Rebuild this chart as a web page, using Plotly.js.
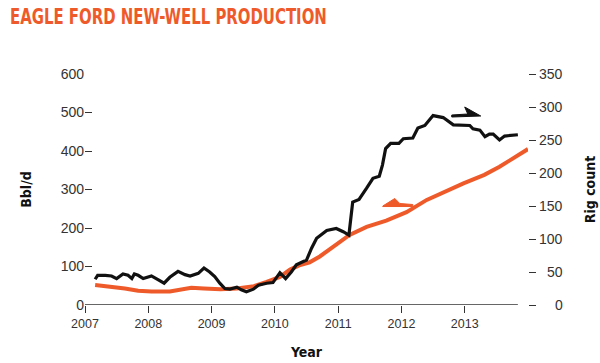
<!DOCTYPE html>
<html>
<head>
<meta charset="utf-8">
<script src="https://cdn.plot.ly/plotly-3.0.1.min.js"></script>
<style>html,body{margin:0;padding:0;background:#fff;}#chart{width:600px;height:363px;}</style>
</head>
<body>
<div id="chart"></div>
<script>
// Oil production per new well (Bbl/d, left axis)
const prodYears = [2007.16, 2007.42, 2007.63, 2007.84, 2008.05, 2008.34, 2008.53, 2008.68, 2008.88, 2009.14, 2009.40, 2009.67, 2009.87, 2010.08, 2010.24, 2010.40, 2010.55, 2010.71, 2010.92, 2011.18, 2011.45, 2011.76, 2012.08, 2012.40, 2012.98, 2013.31, 2013.55, 2014.00];
const prodBbl   = [52, 48, 43, 37, 35, 35, 40, 45, 43, 41, 43, 49, 60, 73, 92, 104, 111, 126, 151, 182, 203, 219, 241, 273, 316, 338, 359, 405];

// Rig count (right axis)
const rigYears = [2007.16, 2007.20, 2007.32, 2007.42, 2007.50, 2007.60, 2007.68, 2007.74, 2007.78, 2007.84, 2007.92, 2008.05, 2008.16, 2008.25, 2008.34, 2008.47, 2008.58, 2008.66, 2008.79, 2008.88, 2008.97, 2009.05, 2009.13, 2009.21, 2009.29, 2009.40, 2009.47, 2009.55, 2009.66, 2009.74, 2009.87, 2009.97, 2010.08, 2010.17, 2010.26, 2010.34, 2010.45, 2010.50, 2010.58, 2010.66, 2010.82, 2010.97, 2011.08, 2011.17, 2011.23, 2011.33, 2011.45, 2011.55, 2011.65, 2011.70, 2011.75, 2011.83, 2011.96, 2012.03, 2012.18, 2012.26, 2012.37, 2012.50, 2012.66, 2012.82, 2013.08, 2013.13, 2013.24, 2013.32, 2013.39, 2013.45, 2013.55, 2013.63, 2013.84];
const rigCount = [39, 45, 45, 44, 40, 47, 45, 40, 47, 45, 40, 44, 38, 33, 42, 51, 46, 44, 48, 56, 50, 43, 33, 25, 24, 27, 23, 20, 24, 30, 33, 34, 49, 40, 50, 61, 66, 68, 86, 101, 113, 116, 111, 106, 156, 160, 177, 192, 195, 212, 237, 245, 245, 252, 253, 268, 272, 287, 284, 273, 272, 267, 265, 255, 259, 259, 250, 256, 258];

// Ticks
const xTickVals = [2007, 2008, 2009, 2010, 2011, 2012, 2013];
const xTickText = ["2007", "2008", "2009", "2010", "2011", "2012", "2013"];
const leftTickVals = [0, 100, 200, 300, 400, 500, 600];
const rightTickVals = [0, 50, 100, 150, 200, 250, 300, 350];
const rightTickText = ["0", "50", "100", "150", "200", "250", "300", "350"];

const ORANGE = "#EF5A2A";
const DARK = "#111111";
const narrow = "DejaVu Sans Condensed, Liberation Sans Narrow, Arial Narrow, sans-serif";
const sans = "Liberation Sans, Arial, sans-serif";

const traces = [
  {x: prodYears, y: prodBbl, type: "scatter", mode: "lines", yaxis: "y",
   line: {color: ORANGE, width: 4}, name: "Bbl/d", hoverinfo: "skip"},
  {x: rigYears, y: rigCount, type: "scatter", mode: "lines", yaxis: "y2",
   line: {color: DARK, width: 3.2}, name: "Rig count", hoverinfo: "skip"}
];

// right-hand tick labels, right-aligned as in the reference
const rightLabels = rightTickVals.map(function (v, i) {
  return {xref: "paper", yref: "y2", x: 1, y: v, xanchor: "right", yanchor: "middle", xshift: 37,
          text: rightTickText[i], showarrow: false, font: {family: sans, size: 14, color: "#333"}};
});

const layout = {
  width: 600, height: 363,
  margin: {l: 85, r: 72, t: 74, b: 58},
  paper_bgcolor: "#fff", plot_bgcolor: "#fff",
  showlegend: false,
  title: {text: "EAGLE FORD NEW-WELL PRODUCTION", font: {family: narrow, size: 21, color: ORANGE, weight: "bold"},
          xref: "container", yref: "container", x: 10/600, xanchor: "left", y: 1 - 17/363, yanchor: "middle"},
  xaxis: {range: [2007, 2014.0], tickvals: xTickVals, ticktext: xTickText, ticks: "outside", ticklen: 7,
          tickcolor: "#333", tickwidth: 1, showline: false, showgrid: false, zeroline: false,
          tickfont: {family: sans, size: 12.5, color: "#333"},
          title: {text: "Year", font: {family: narrow, size: 14, color: "#111", weight: "bold"}, standoff: 17}},
  yaxis: {range: [0, 600], tickvals: leftTickVals, ticks: "inside", ticklen: 7, tickcolor: "#333", tickwidth: 1,
          showline: false, showgrid: false, zeroline: false,
          tickfont: {family: sans, size: 14, color: "#333"},
          title: {text: "Bbl/d", font: {family: narrow, size: 14, color: "#111", weight: "bold"}, standoff: 25}},
  yaxis2: {range: [0, 350], overlaying: "y", side: "right", tickvals: rightTickVals, showticklabels: false,
           ticks: "outside", ticklen: 7, tickcolor: "#333", tickwidth: 1,
           showline: false, showgrid: false, zeroline: false,
           title: {text: "Rig count", font: {family: narrow, size: 14, color: "#111", weight: "bold"}, standoff: 50}},
  annotations: rightLabels,
  shapes: [
    {type: "line", xref: "x", yref: "y", x0: 2007, x1: 2013.84, y0: 0, y1: 0, line: {color: "#333", width: 1.5}},
    // black harpoon (points right -> rig count)
    {type: "path", xref: "x", yref: "y", fillcolor: DARK, line: {color: DARK, width: 1},
     path: "M2012.795,493.5 L2013.048,496.1 L2013.0,514.3 L2013.253,490.9 L2012.795,488.3 Z"},
    // orange harpoon (points left -> Bbl/d)
    {type: "path", xref: "x", yref: "y", fillcolor: ORANGE, line: {color: ORANGE, width: 1},
     path: "M2011.705,257.1 L2011.895,276.6 L2011.974,263.6 L2012.179,261.0 L2012.179,255.8 L2011.705,255.8 Z"}
  ]
};

Plotly.newPlot("chart", traces, layout, {staticPlot: true, displayModeBar: false}).then(function (gd) {
  // condense the headline horizontally to mimic the condensed display face
  const t = gd.querySelector(".gtitle");
  if (t) {
    const x0 = parseFloat(t.getAttribute("x")) || 10;
    const prev = t.getAttribute("transform") || "";
    t.setAttribute("transform", prev + " translate(" + x0 + ",0) scale(0.79,1) translate(" + (-x0) + ",0)");
  }
});
</script>
</body>
</html>
